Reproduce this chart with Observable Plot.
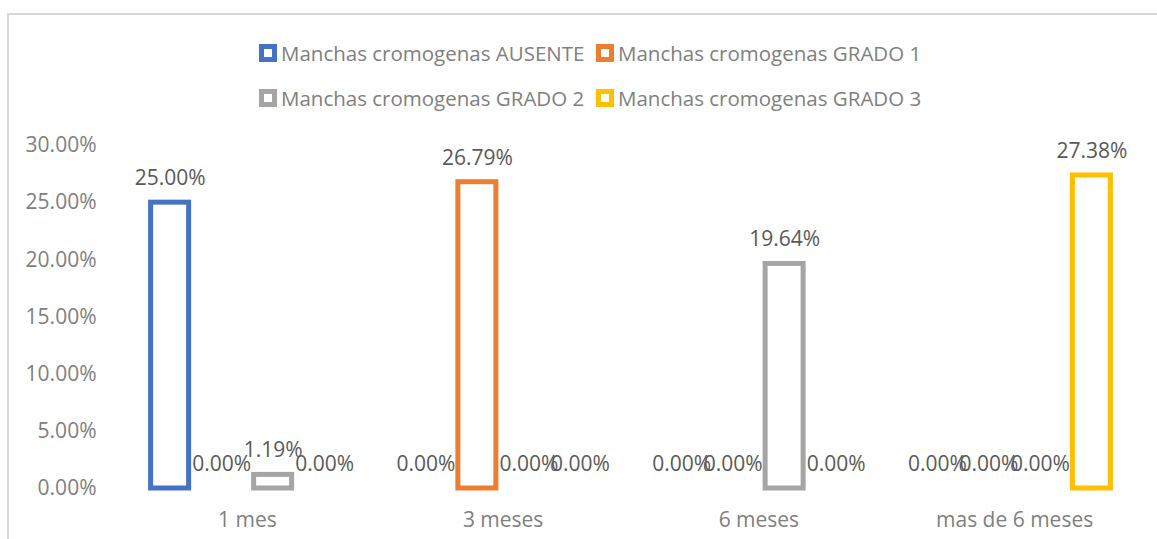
<!DOCTYPE html>
<html>
<head>
<meta charset="utf-8">
<script src="https://cdn.jsdelivr.net/npm/d3@7"></script>
<script src="https://cdn.jsdelivr.net/npm/@observablehq/plot@0.6"></script>
<style>
html, body { margin: 0; padding: 0; background: #fff; overflow: hidden; }
#wrap { position: relative; width: 1157px; height: 539px; font-family: "Open Sans", sans-serif; }
#frame { position: absolute; left: 7px; top: 13px; width: 1300px; height: 700px;
  border-top: 2px solid #d9d9d9; border-left: 2px solid #d9d9d9; pointer-events: none; }
#legend { position: relative; height: 120px; box-sizing: border-box; padding-top: 30px; }
#legend .grid { position: absolute; left: 259px; top: 30px; display: grid;
  grid-template-columns: 337px auto; grid-auto-rows: 45px; }
#legend .item { display: flex; align-items: center; font-size: 20.5px; color: #808080; white-space: nowrap; }
#legend .sw { width: 18px; height: 18px; box-sizing: border-box; border: 5px solid; background: #fff; margin-right: 4px; flex: none; }
#chart svg { display: block; }
</style>
</head>
<body>
<div id="wrap">
  <div id="frame"></div>
  <div id="legend"><div class="grid"></div></div>
  <div id="chart"></div>
</div>
<script>
const categories = ["1 mes", "3 meses", "6 meses", "mas de 6 meses"];
const seriesNames = [
  "Manchas cromogenas AUSENTE",
  "Manchas cromogenas GRADO 1",
  "Manchas cromogenas GRADO 2",
  "Manchas cromogenas GRADO 3"
];
const ausente = [25.00, 0.00, 0.00, 0.00];
const grado1  = [0.00, 26.79, 0.00, 0.00];
const grado2  = [1.19, 0.00, 19.64, 0.00];
const grado3  = [0.00, 0.00, 0.00, 27.38];
const yTicks = [0, 5, 10, 15, 20, 25, 30];
const seriesColors = ["#4472C4", "#ED7D31", "#A5A5A5", "#FFC000"];

const seriesValues = [ausente, grado1, grado2, grado3];
const data = [];
categories.forEach((cat, i) => {
  seriesNames.forEach((s, j) => {
    data.push({cat, series: s, value: seriesValues[j][i]});
  });
});

// legend
const grid = document.querySelector("#legend .grid");
seriesNames.forEach((s, j) => {
  const item = document.createElement("div");
  item.className = "item";
  const sw = document.createElement("span");
  sw.className = "sw";
  sw.style.borderColor = seriesColors[j];
  const t = document.createElement("span");
  t.textContent = s;
  item.appendChild(sw);
  item.appendChild(t);
  grid.appendChild(item);
});

const fmt = d => d.toFixed(2) + "%";

const chart = Plot.plot({
  width: 1157,
  height: 419,
  marginTop: 25,
  marginBottom: 51,
  marginLeft: 119,
  marginRight: 15,
  style: {fontFamily: "Open Sans, sans-serif", fontSize: "21px", color: "#808080", background: "transparent"},
  fx: {domain: categories, paddingInner: 0, paddingOuter: 0, round: false, label: null},
  x: {domain: seriesNames, paddingInner: 0.262, paddingOuter: 0.614, round: false, axis: null},
  y: {domain: [0, 30], label: null},
  color: {domain: seriesNames, range: seriesColors},
  marks: [
    Plot.axisY({ticks: yTicks, tickSize: 0, tickPadding: 23, tickFormat: fmt, label: null, color: "#808080"}),
    Plot.axisFx({anchor: "bottom", tickSize: 0, tickPadding: 24, label: null, color: "#808080"}),
    Plot.barY(data.filter(d => d.value > 0), {
      fx: "cat", x: "series", y: "value",
      stroke: "series", fill: "white", strokeWidth: 5
    }),
    Plot.text(data, {
      fx: "cat", x: "series", y: "value",
      text: d => fmt(d.value),
      lineAnchor: "bottom", dy: -17.5, fill: "#595959"
    })
  ]
});
document.getElementById("chart").appendChild(chart);
</script>
</body>
</html>
